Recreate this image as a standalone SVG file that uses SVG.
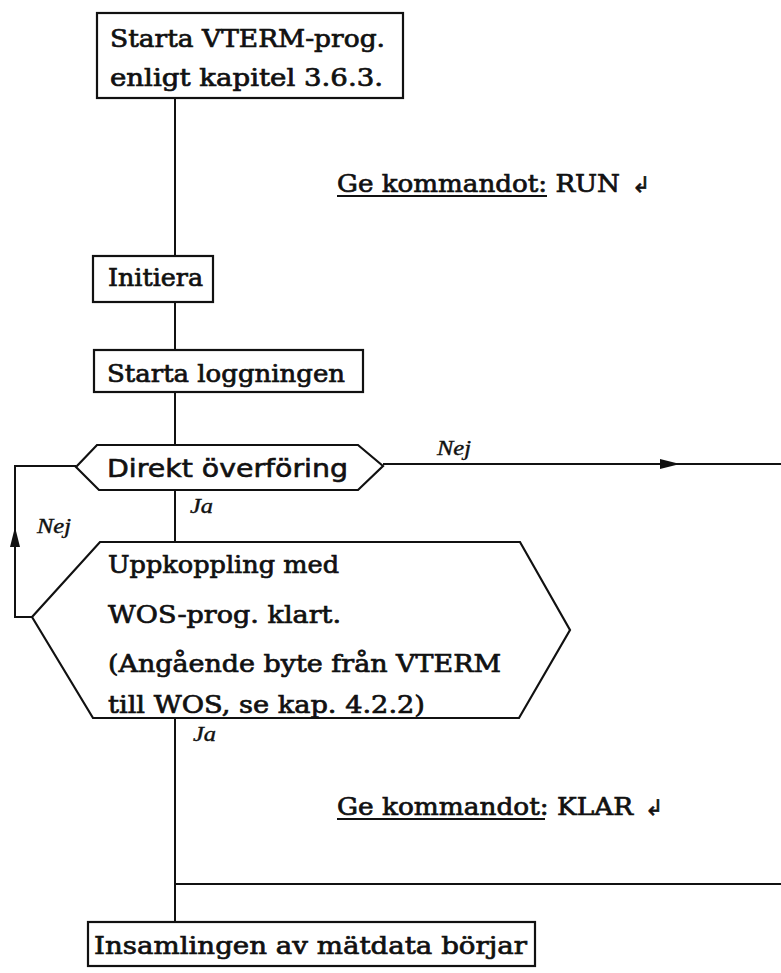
<svg xmlns="http://www.w3.org/2000/svg" width="781" height="973" viewBox="0 0 781 973">
  <style>
    .shape { fill: #fff; stroke: #111; stroke-width: 2.2; }
    .conn { fill: none; stroke: #111; stroke-width: 2; }
    .t { font-family: "DejaVu Serif", "Liberation Serif", serif; font-size: 24px; fill: #111; stroke: #111; stroke-width: 0.7; }
    .ts { font-family: "DejaVu Sans", "Liberation Sans", sans-serif; font-size: 24px; fill: #111; stroke: #111; stroke-width: 0.6; }
    .sym { font-family: "DejaVu Sans", sans-serif; font-size: 22px; fill: #111; stroke: #111; stroke-width: 0.6; }
    .hand { font-family: "Liberation Serif", serif; font-style: italic; font-size: 20px; fill: #111; stroke: #111; stroke-width: 0.4; }
    .ul { stroke: #111; stroke-width: 2; }
  </style>
  <defs>
    <marker id="arr" markerWidth="20" markerHeight="12" refX="20" refY="6" orient="auto" markerUnits="userSpaceOnUse">
      <path d="M0,1 L20,6 L0,11 Z" fill="#111"/>
    </marker>
  </defs>
  <rect width="781" height="973" fill="#fff"/>

  <!-- connectors -->
  <g id="connectors">
    <path class="conn" d="M175,98 V256"/>
    <path class="conn" d="M175,302 V350"/>
    <path class="conn" d="M175,392 V445"/>
    <path class="conn" d="M175,490 V542"/>
    <path class="conn" d="M175,718 V922"/>
    <path class="conn" d="M175,884 H781"/>
    <path class="conn" d="M383,464 H781"/>
    <path class="conn" d="M383,464 H680" marker-end="url(#arr)"/>
    <path class="conn" d="M32,617 H15 V466 H76"/>
    <path class="conn" d="M15,560 V527" marker-end="url(#arr)"/>
    <text class="hand" x="437" y="455" textLength="34" lengthAdjust="spacingAndGlyphs">Nej</text>
    <text class="hand" x="37" y="533" textLength="34" lengthAdjust="spacingAndGlyphs">Nej</text>
    <text class="hand" x="190" y="513" textLength="23" lengthAdjust="spacingAndGlyphs">Ja</text>
    <text class="hand" x="193" y="741" textLength="23" lengthAdjust="spacingAndGlyphs">Ja</text>
  </g>

  <g id="start">
    <rect class="shape" x="97" y="13" width="306" height="85"/>
    <text class="t" x="110" y="47" textLength="275" lengthAdjust="spacingAndGlyphs">Starta VTERM-prog.</text>
    <text class="t" x="110" y="86" textLength="273" lengthAdjust="spacingAndGlyphs">enligt kapitel 3.6.3.</text>
  </g>

  <g id="cmd-run">
    <text class="t" x="337" y="192" textLength="283" lengthAdjust="spacingAndGlyphs">Ge kommandot: RUN</text>
    <line class="ul" x1="337" y1="196" x2="547" y2="196"/>
    <text class="sym" x="632" y="192">↲</text>
  </g>

  <g id="initiera">
    <rect class="shape" x="93" y="256" width="120" height="46"/>
    <text class="t" x="108" y="286" textLength="95" lengthAdjust="spacingAndGlyphs">Initiera</text>
  </g>

  <g id="loggning">
    <rect class="shape" x="94" y="350" width="269" height="42"/>
    <text class="t" x="107" y="382" textLength="238" lengthAdjust="spacingAndGlyphs">Starta loggningen</text>
  </g>

  <g id="direkt">
    <path class="shape" d="M76,467 L97,445 H358 L383,466 L358,490 H99 Z"/>
    <text class="ts" x="107" y="477" textLength="241" lengthAdjust="spacingAndGlyphs">Direkt överföring</text>
  </g>

  <g id="uppkoppling">
    <path class="shape" d="M32,617 L100,542 H520 L570,630 L519,718 H93 Z"/>
    <text class="t" x="108" y="573" textLength="231" lengthAdjust="spacingAndGlyphs">Uppkoppling med</text>
    <text class="t" x="108" y="623" textLength="233" lengthAdjust="spacingAndGlyphs">WOS-prog. klart.</text>
    <text class="t" x="108" y="672" textLength="393" lengthAdjust="spacingAndGlyphs">(Angående byte från VTERM</text>
    <text class="t" x="108" y="713" textLength="317" lengthAdjust="spacingAndGlyphs">till WOS, se kap. 4.2.2)</text>
  </g>

  <g id="cmd-klar">
    <text class="t" x="337" y="815" textLength="296" lengthAdjust="spacingAndGlyphs">Ge kommandot: KLAR</text>
    <line class="ul" x1="337" y1="819" x2="545" y2="819"/>
    <text class="sym" x="645" y="815">↲</text>
  </g>

  <g id="insamling">
    <rect class="shape" x="88" y="922" width="447" height="44"/>
    <text class="t" x="94" y="954" textLength="433" lengthAdjust="spacingAndGlyphs">Insamlingen av mätdata börjar</text>
  </g>
</svg>
